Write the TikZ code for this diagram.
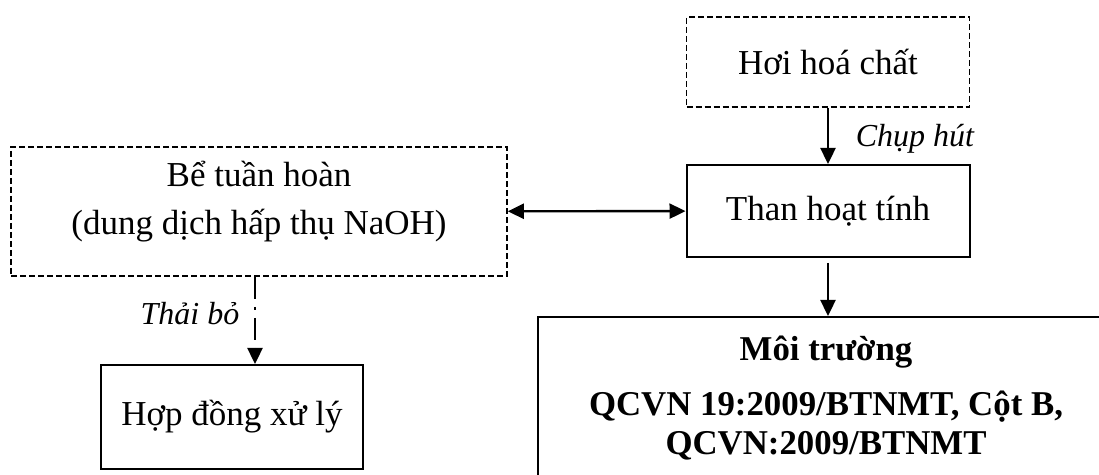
\documentclass[tikz,border=0pt]{standalone}
\usepackage{fontspec}
\setmainfont{Liberation Serif}
\usetikzlibrary{arrows.meta}

\tikzset{
  procbox/.style={draw, line width=1pt, inner sep=0pt, align=center},
  srcbox/.style={draw, line width=0.8pt, dash pattern=on 3pt off 1.5pt, inner sep=0pt, align=center},
  flow/.style={line width=1.2pt, -{Triangle[length=8pt,width=7.5pt]}},
  biflow/.style={line width=1.2pt, {Triangle[length=8pt,width=7.5pt]}-{Triangle[length=8pt,width=7.5pt]}},
  flowtag/.style={font=\fontsize{16}{20}\selectfont\itshape, inner sep=0pt}
}

\begin{document}
\begin{tikzpicture}[x=0.5pt,y=-0.5pt,font=\fontsize{17.5}{24}\selectfont]
  \clip (0,0) rectangle (1099,475);
  % sources and treatment
  \node[srcbox, minimum width=141.5pt, minimum height=45pt] (hoi) at (828,62) {Hơi hoá chất};
  \node[procbox, minimum width=141.5pt, minimum height=46pt] (than) at (828,211) {Than hoạt tính};
  \node[srcbox, minimum width=248pt, minimum height=64.5pt] (be) at (259,211.5) {};
  \node[align=center, inner sep=0pt] (betext) at (259,202)
    {Bể tuần hoàn\\(dung dịch hấp thụ NaOH)};
  \node[procbox, minimum width=131pt, minimum height=52pt] (hop) at (232,417) {Hợp đồng xử lý};
  % output box runs past the page edge
  \node[procbox, anchor=north, minimum width=290pt, minimum height=100pt] (moi) at (828,316) {};
  \node[font=\fontsize{17.4}{19.5}\selectfont\bfseries, align=center, inner sep=0pt] (moitext) at (826,398)
    {Môi trường\\[8pt]QCVN 19:2009/BTNMT, Cột B,\\QCVN:2009/BTNMT};
  \coordinate (drain) at (255,0);

  \draw[flow] (hoi) -- (than);
  \draw[flow, shorten <=2.5pt] (than) -- (than |- moi.north);
  \draw[biflow] (be) -- (than);
  \draw[flow, dash pattern=on 11pt off 4pt on 1.5pt off 4pt] (be.south -| drain) -- (hop.north -| drain);

  \node[flowtag] (chup) at (915,139) {Chụp hút};
  \node[flowtag] (thai) at (190,314) {Thải bỏ};
\end{tikzpicture}
\end{document}
